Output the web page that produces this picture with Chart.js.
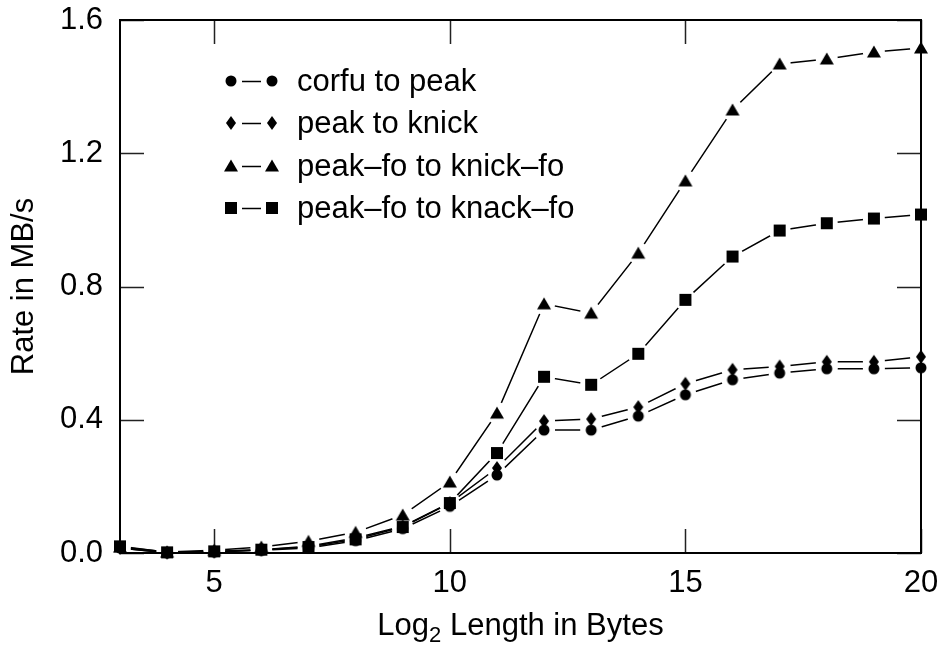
<!DOCTYPE html>
<html>
<head>
<meta charset="utf-8">
<script src="https://cdn.jsdelivr.net/npm/chart.js@4.4.1/dist/chart.umd.min.js"></script>
<style>
  body { margin: 0; background: #fff; }
  #wrap { width: 940px; height: 646px; }
</style>
</head>
<body>
<div id="wrap"><canvas id="myChart" width="940" height="646"></canvas></div>
<script>
var xValues = [3, 4, 5, 6, 7, 8, 9, 10, 11, 12, 13, 14, 15, 16, 17, 18, 19, 20];
var corfuToPeak = [0.015, 0.0, 0.003, 0.008, 0.015, 0.037, 0.073, 0.14, 0.234, 0.369, 0.369, 0.411, 0.475, 0.52, 0.54, 0.553, 0.553, 0.556];
var peakToKnick = [0.015, 0.001, 0.004, 0.01, 0.02, 0.045, 0.08, 0.15, 0.255, 0.396, 0.402, 0.438, 0.508, 0.55, 0.56, 0.574, 0.574, 0.589];
var peakFoToKnickFo = [0.018, 0.003, 0.008, 0.018, 0.035, 0.062, 0.114, 0.213, 0.42, 0.748, 0.72, 0.9, 1.117, 1.33, 1.468, 1.483, 1.504, 1.516];
var peakFoToKnackFo = [0.02, 0.002, 0.005, 0.01, 0.018, 0.041, 0.078, 0.15, 0.3, 0.529, 0.505, 0.598, 0.76, 0.89, 0.968, 0.99, 1.004, 1.016];
var seriesNames = ['corfu to peak', 'peak to knick', 'peak\u2013fo to knick\u2013fo', 'peak\u2013fo to knack\u2013fo'];
var seriesShapes = ['circle', 'diamond', 'triangle', 'square'];
var xTickValues = [5, 10, 15, 20];
var yTickValues = [0, 0.4, 0.8, 1.2, 1.6];

var fontFamily = '"Liberation Sans", Arial, Helvetica, sans-serif';
var fontSize = 31;

function drawMarker(ctx, shape, cx, cy) {
  ctx.fillStyle = '#000';
  ctx.beginPath();
  if (shape === 'circle') {
    ctx.arc(cx, cy, 5.5, 0, Math.PI * 2);
  } else if (shape === 'diamond') {
    ctx.moveTo(cx, cy - 7);
    ctx.lineTo(cx + 5, cy);
    ctx.lineTo(cx, cy + 7);
    ctx.lineTo(cx - 5, cy);
  } else if (shape === 'triangle') {
    ctx.moveTo(cx, cy - 6.5);
    ctx.lineTo(cx + 7, cy + 5.5);
    ctx.lineTo(cx - 7, cy + 5.5);
  } else {
    ctx.rect(cx - 6, cy - 6, 12, 12);
  }
  ctx.closePath();
  ctx.fill();
}

function markerImage(shape) {
  var c = document.createElement('canvas');
  c.width = 18;
  c.height = 18;
  drawMarker(c.getContext('2d'), shape, 9, 9);
  return c;
}

function getData() {
  var allValues = [corfuToPeak, peakToKnick, peakFoToKnickFo, peakFoToKnackFo];
  var datasets = [];

  // points first so they sit on top of the lines
  for (var i = 0; i < allValues.length; i++) {
    var pts = xValues.map(function(x, j) { return {x: x, y: allValues[i][j]}; });
    datasets.push({
      label: seriesNames[i],
      data: pts,
      showLine: false,
      pointStyle: markerImage(seriesShapes[i]),
      pointRadius: 6,
      clip: false
    });
  }
  for (var k = 0; k < allValues.length; k++) {
    var linePts = xValues.map(function(x, j) { return {x: x, y: allValues[k][j]}; });
    datasets.push({
      label: seriesNames[k] + ' line',
      data: linePts,
      borderColor: '#000',
      borderWidth: 1.5,
      pointRadius: 0,
      tension: 0,
      fill: false,
      gapped: true,
      clip: false
    });
  }
  return { datasets: datasets };
}

// leave a small gap in each line around its own markers
var gapPlugin = {
  id: 'gapPlugin',
  beforeDatasetDraw: function(chart, args) {
    var ds = chart.data.datasets[args.index];
    if (!ds.gapped) return;
    var ctx = chart.ctx;
    ctx.save();
    ctx.beginPath();
    ctx.rect(0, 0, chart.width, chart.height);
    args.meta.data.forEach(function(p) {
      ctx.moveTo(p.x + 11, p.y);
      ctx.arc(p.x, p.y, 11, 0, Math.PI * 2);
    });
    ctx.clip('evenodd');
  },
  afterDatasetDraw: function(chart, args) {
    var ds = chart.data.datasets[args.index];
    if (ds.gapped) chart.ctx.restore();
  }
};

var framePlugin = {
  id: 'framePlugin',
  beforeDatasetsDraw: function(chart) {
    var ctx = chart.ctx;
    var a = chart.chartArea;
    var xs = chart.scales.x, ys = chart.scales.y;
    var tl = 24;
    ctx.save();
    ctx.strokeStyle = '#222';
    ctx.lineWidth = 1.5;
    ctx.beginPath();
    xTickValues.forEach(function(v) {
      var px = Math.round(xs.getPixelForValue(v)) + 0.5;
      ctx.moveTo(px, a.bottom); ctx.lineTo(px, a.bottom - tl);
      ctx.moveTo(px, a.top); ctx.lineTo(px, a.top + tl);
    });
    yTickValues.forEach(function(v) {
      var py = Math.round(ys.getPixelForValue(v)) + 0.5;
      ctx.moveTo(a.left, py); ctx.lineTo(a.left + tl, py);
      ctx.moveTo(a.right, py); ctx.lineTo(a.right - tl, py);
    });
    ctx.stroke();
    ctx.strokeStyle = '#000';
    ctx.lineWidth = 2;
    ctx.strokeRect(a.left, a.top, a.right - a.left, a.bottom - a.top);
    ctx.restore();
  },
  afterDraw: function(chart) {
    var ctx = chart.ctx;
    var a = chart.chartArea;
    ctx.save();
    ctx.fillStyle = '#000';
    ctx.textBaseline = 'middle';
    ctx.textAlign = 'left';

    // legend inside the plot
    var rows = [81, 123, 166, 208];
    for (var i = 0; i < seriesNames.length; i++) {
      var y = rows[i];
      drawMarker(ctx, seriesShapes[i], 231, y);
      drawMarker(ctx, seriesShapes[i], 272, y);
      ctx.strokeStyle = '#000';
      ctx.lineWidth = 1.5;
      ctx.beginPath();
      ctx.moveTo(242, y + 0.5);
      ctx.lineTo(261, y + 0.5);
      ctx.stroke();
      ctx.font = fontSize + 'px ' + fontFamily;
      ctx.fillText(seriesNames[i], 297, y + 1);
    }

    // x axis title with subscript
    ctx.textBaseline = 'alphabetic';
    var big = fontSize + 'px ' + fontFamily;
    var small = Math.round(fontSize * 0.7) + 'px ' + fontFamily;
    var p1 = 'Log', p2 = '2', p3 = ' Length in Bytes';
    ctx.font = big;
    var w1 = ctx.measureText(p1).width, w3 = ctx.measureText(p3).width;
    ctx.font = small;
    var w2 = ctx.measureText(p2).width;
    var x0 = (a.left + a.right) / 2 - (w1 + w2 + w3) / 2;
    var base = 635;
    ctx.font = big;
    ctx.fillText(p1, x0, base);
    ctx.font = small;
    ctx.fillText(p2, x0 + w1, base + 7);
    ctx.font = big;
    ctx.fillText(p3, x0 + w1 + w2, base);
    ctx.restore();
  }
};

var myChart = new Chart(document.getElementById('myChart').getContext('2d'), {
  type: 'line',
  data: getData(),
  plugins: [gapPlugin, framePlugin],
  options: {
    responsive: false,
    animation: false,
    events: [],
    layout: { padding: { left: 0, right: 19, top: 20, bottom: 0 } },
    plugins: {
      legend: { display: false },
      tooltip: { enabled: false }
    },
    scales: {
      x: {
        type: 'linear',
        min: 3,
        max: 20,
        afterBuildTicks: function(scale) {
          scale.ticks = xTickValues.map(function(v) { return {value: v}; });
        },
        afterFit: function(scale) {
          scale.height = 93;
          scale.paddingLeft = 0;
          scale.paddingRight = 0;
        },
        grid: { display: false, drawTicks: false },
        border: { display: false },
        ticks: {
          color: '#000',
          padding: 12,
          maxRotation: 0,
          font: { family: fontFamily, size: fontSize }
        }
      },
      y: {
        type: 'linear',
        min: 0,
        max: 1.6,
        afterBuildTicks: function(scale) {
          scale.ticks = yTickValues.map(function(v) { return {value: v}; });
        },
        afterFit: function(scale) {
          scale.width = 120;
          scale.paddingTop = 0;
          scale.paddingBottom = 0;
        },
        grid: { display: false, drawTicks: false },
        border: { display: false },
        title: {
          display: true,
          text: 'Rate in MB/s',
          color: '#000',
          padding: { top: 6, bottom: 0 },
          font: { family: fontFamily, size: fontSize }
        },
        ticks: {
          color: '#000',
          padding: 17,
          font: { family: fontFamily, size: fontSize },
          callback: function(v) { return v.toFixed(1); }
        }
      }
    }
  }
});
</script>
</body>
</html>
